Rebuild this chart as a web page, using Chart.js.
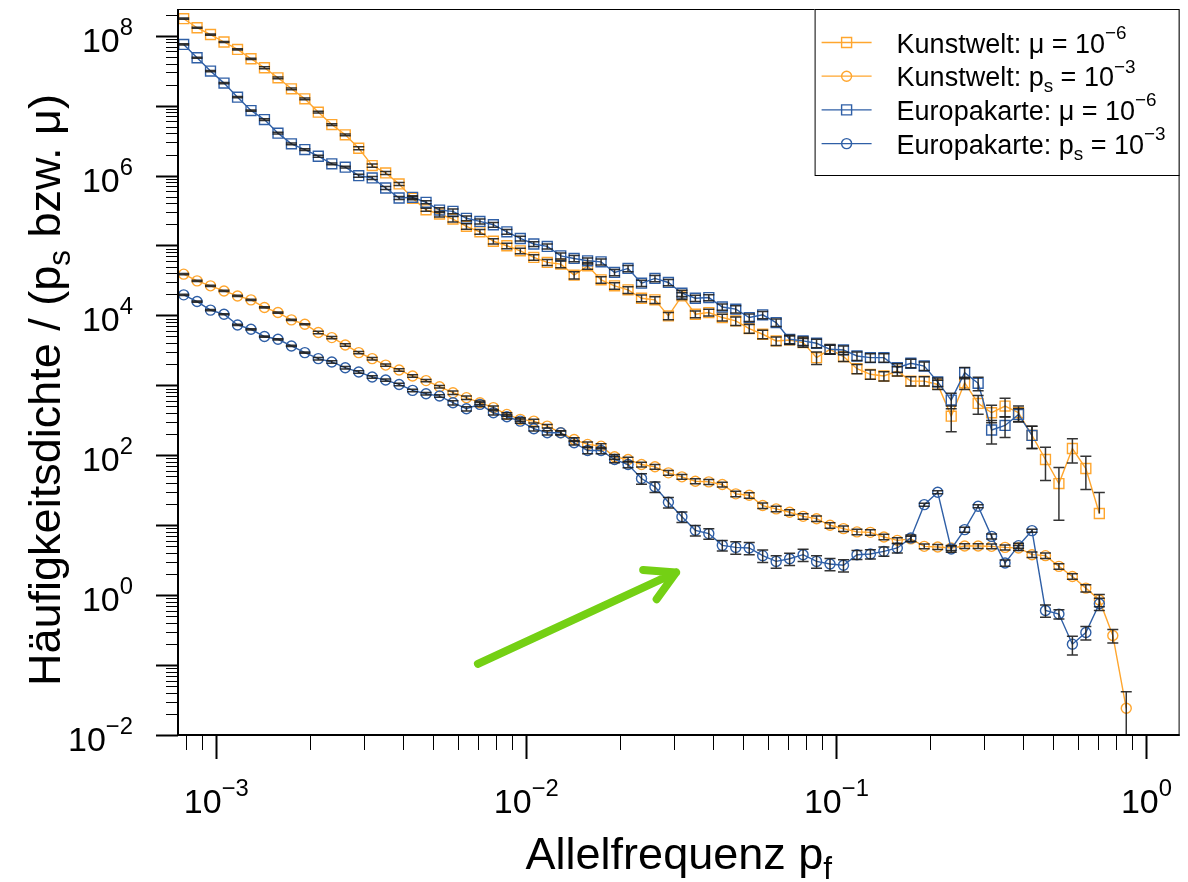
<!DOCTYPE html>
<html>
<head>
<meta charset="utf-8">
<script src="https://cdn.jsdelivr.net/npm/chart.js@4.4.0/dist/chart.umd.min.js"></script>
<style>
  html, body { margin: 0; padding: 0; background: #fff; }
</style>
</head>
<body>
<canvas id="chart" width="1188" height="882"></canvas>
<script>
// allele frequency bins (x)
const allelFreq = [
  0.000785, 0.000867, 0.000958, 0.001059, 0.001171, 0.001294, 0.001430, 0.001581, 0.001747, 0.001930,
  0.002133, 0.002358, 0.002606, 0.002880, 0.003183, 0.003518, 0.003887, 0.004296, 0.004748, 0.005248,
  0.005799, 0.006409, 0.007083, 0.007828, 0.008652, 0.009562, 0.01057, 0.01168, 0.01291, 0.01426,
  0.01576, 0.01742, 0.01925, 0.02128, 0.02352, 0.02599, 0.02872, 0.03175, 0.03508, 0.03877,
  0.04285, 0.04736, 0.05234, 0.05784, 0.06393, 0.07065, 0.07808, 0.08629, 0.09537, 0.1054,
  0.1165, 0.1287, 0.1423, 0.1572, 0.1738, 0.1920, 0.2122, 0.2346, 0.2592, 0.2865,
  0.3166, 0.3499, 0.3867, 0.4274, 0.4724, 0.5220, 0.5769, 0.6376, 0.7047, 0.7788,
  0.8607
];

// Kunstwelt, mu = 1e-6
const kunstMu = [
  1.75e8, 1.30e8, 1.04e8, 8.13e7, 6.37e7, 4.68e7, 3.48e7, 2.50e7, 1.74e7, 1.25e7,
  8.07e6, 5.36e6, 3.82e6, 2.46e6, 1.39e6, 1.09e6, 7.59e5, 4.73e5, 3.24e5, 2.82e5,
  2.39e5, 1.88e5, 1.57e5, 1.15e5, 9.91e4, 8.40e4, 6.76e4, 5.73e4, 5.42e4, 3.77e4,
  5.12e4, 3.23e4, 2.65e4, 2.32e4, 1.76e4, 1.67e4, 9.84e3, 1.90e4, 1.04e4, 1.10e4,
  9.33e3, 8.34e3, 6.49e3, 5.38e3, 4.32e3, 4.46e3, 4.09e3, 2.49e3, 3.28e3, 2.58e3,
  1.73e3, 1.44e3, 1.36e3, 1.60e3, 1.15e3, 1.15e3, 1.03e3, 363, 1.09e3, 552,
  406, 505, 406, 192, 87.1, 39.4, 125, 64.7, 14.7
];
const kunstMuErr = [
  0.02, 0.02, 0.02, 0.02, 0.02, 0.02, 0.03, 0.03, 0.03, 0.03,
  0.03, 0.03, 0.03, 0.05, 0.05, 0.05, 0.05, 0.05, 0.05, 0.09,
  0.09, 0.09, 0.08, 0.09, 0.09, 0.09, 0.09, 0.10, 0.11, 0.12,
  0.11, 0.11, 0.11, 0.11, 0.11, 0.11, 0.12, 0.11, 0.11, 0.11,
  0.11, 0.14, 0.14, 0.14, 0.14, 0.14, 0.14, 0.20, 0.15, 0.15,
  0.15, 0.15, 0.15, 0.15, 0.15, 0.15, 0.15, 0.40, 0.20, 0.30,
  0.28, 0.30, 0.25, 0.35, 0.50, 0.70, 0.38, 0.50, 1.0
];

// Kunstwelt, ps = 1e-3
const kunstPs = [
  3.89e4, 3.12e4, 2.65e4, 2.24e4, 1.90e4, 1.67e4, 1.30e4, 1.10e4, 8.63e3, 7.48e3,
  5.69e3, 4.82e3, 3.78e3, 2.94e3, 2.41e3, 1.95e3, 1.66e3, 1.36e3, 1.17e3, 957,
  785, 667, 565, 480, 384, 326, 308, 261, 210, 168,
  143, 135, 95.1, 87.1, 73.8, 68.4, 56.1, 49.2, 42.6, 41.7,
  38.2, 28.1, 26.8, 19.1, 17.1, 15.3, 13.4, 12.4, 9.98, 8.94,
  8.02, 7.91, 6.79, 6.08, 6.37, 4.99, 4.89, 4.73, 5.05, 5.05,
  4.99, 4.82, 4.73, 3.79, 3.67, 2.58, 1.85, 1.26, 0.853, 0.265,
  0.0241
];
const kunstPsErr = [
  0.02, 0.02, 0.02, 0.02, 0.02, 0.02, 0.02, 0.02, 0.02, 0.02,
  0.04, 0.04, 0.04, 0.04, 0.04, 0.04, 0.04, 0.04, 0.04, 0.04,
  0.06, 0.06, 0.06, 0.06, 0.06, 0.06, 0.06, 0.06, 0.06, 0.06,
  0.08, 0.08, 0.08, 0.08, 0.08, 0.08, 0.08, 0.08, 0.08, 0.08,
  0.08, 0.09, 0.09, 0.09, 0.09, 0.09, 0.09, 0.09, 0.09, 0.09,
  0.09, 0.09, 0.09, 0.09, 0.09, 0.08, 0.08, 0.08, 0.08, 0.08,
  0.08, 0.08, 0.08, 0.09, 0.09, 0.09, 0.09, 0.12, 0.20, 0.22,
  0.72
];

// Europakarte, mu = 1e-6
const europaMu = [
  7.50e7, 4.84e7, 3.12e7, 2.10e7, 1.32e7, 8.51e6, 6.32e6, 4.04e6, 2.84e6, 2.35e6,
  1.89e6, 1.47e6, 1.32e6, 9.98e5, 9.25e5, 6.64e5, 4.78e5, 4.89e5, 4.15e5, 3.21e5,
  3.08e5, 2.45e5, 2.21e5, 1.98e5, 1.57e5, 1.26e5, 1.05e5, 9.70e4, 7.11e4, 6.53e4,
  6.04e4, 5.84e4, 4.12e4, 4.70e4, 2.89e4, 3.38e4, 2.96e4, 2.08e4, 1.76e4, 1.80e4,
  1.32e4, 1.23e4, 9.33e3, 1.02e4, 7.91e3, 4.56e3, 4.32e3, 4.00e3, 3.28e3, 3.21e3,
  2.63e3, 2.49e3, 2.49e3, 1.79e3, 2.07e3, 1.89e3, 1.12e3, 615, 1.52e3, 1.07e3,
  230, 267, 384, 192
];
const europaMuErr = [
  0.02, 0.02, 0.02, 0.02, 0.02, 0.02, 0.03, 0.03, 0.03, 0.03,
  0.03, 0.03, 0.03, 0.05, 0.05, 0.05, 0.05, 0.05, 0.05, 0.08,
  0.08, 0.08, 0.08, 0.08, 0.08, 0.08, 0.08, 0.08, 0.10, 0.10,
  0.10, 0.10, 0.10, 0.10, 0.10, 0.10, 0.10, 0.10, 0.10, 0.10,
  0.10, 0.12, 0.12, 0.12, 0.12, 0.14, 0.14, 0.14, 0.14, 0.14,
  0.14, 0.14, 0.14, 0.14, 0.14, 0.14, 0.14, 0.25, 0.18, 0.22,
  0.37, 0.33, 0.22, 0.35
];

// Europakarte, ps = 1e-3
const europaPs = [
  1.97e4, 1.58e4, 1.19e4, 1.04e4, 7.31e3, 6.34e3, 4.99e3, 4.56e3, 3.66e3, 2.94e3,
  2.41e3, 2.16e3, 1.79e3, 1.55e3, 1.32e3, 1.19e3, 1.03e3, 847, 760, 703,
  565, 463, 535, 406, 356, 308, 240, 210, 210, 151,
  117, 117, 87.1, 73.8, 46.5, 35.4, 21.3, 13.2, 8.45, 7.59,
  5.15, 4.82, 4.73, 3.67, 3.04, 3.32, 3.79, 3.04, 2.79, 2.67,
  3.79, 3.88, 4.23, 4.73, 6.58, 19.7, 29.6, 4.57, 8.65, 18.7,
  6.93, 2.88, 5.10, 8.37, 0.604, 0.536, 0.199, 0.292, 0.753
];
const europaPsErr = [
  0.02, 0.02, 0.02, 0.02, 0.02, 0.02, 0.02, 0.02, 0.02, 0.02,
  0.04, 0.04, 0.04, 0.04, 0.04, 0.04, 0.04, 0.04, 0.04, 0.04,
  0.07, 0.07, 0.07, 0.07, 0.07, 0.07, 0.07, 0.07, 0.07, 0.07,
  0.10, 0.10, 0.10, 0.10, 0.17, 0.17, 0.17, 0.17, 0.17, 0.17,
  0.17, 0.20, 0.20, 0.20, 0.20, 0.20, 0.20, 0.20, 0.20, 0.20,
  0.15, 0.15, 0.15, 0.15, 0.10, 0.05, 0.05, 0.10, 0.08, 0.05,
  0.08, 0.10, 0.08, 0.05, 0.20, 0.15, 0.30, 0.22, 0.20
];

// axis labels (powers of ten)
const xLabelExps = [-3, -2, -1, 0];
const yLabelExps = [-2, 0, 2, 4, 6, 8];

// legend text parts: [text, 'sup' | 'sub' | '']
const seriesLabels = [
  [['Kunstwelt: μ = 10'], ['−6', 'sup']],
  [['Kunstwelt: p'], ['s', 'sub'], [' = 10'], ['−3', 'sup']],
  [['Europakarte: μ = 10'], ['−6', 'sup']],
  [['Europakarte: p'], ['s', 'sub'], [' = 10'], ['−3', 'sup']]
];
const xTitle = [['Allelfrequenz p'], ['f', 'sub']];
const yTitle = [['Häufigkeitsdichte / (p'], ['s', 'sub'], [' bzw. μ)']];

// green arrow annotation, in data coordinates
const arrowFrom = {x: 0.00698, y: 0.104};
const arrowTo = {x: 0.0304, y: 2.11};

const ORANGE = '#ffa62e';
const BLUE = '#2f5fa6';
const FONT = '"Liberation Sans", Arial, Helvetica, sans-serif';

function toPoints(vals) {
  return vals.map((v, i) => ({x: allelFreq[i], y: v}));
}

function layoutRich(ctx, parts, size) {
  let w = 0;
  const out = parts.map(([t, k]) => {
    const s = k ? size * 0.7 : size;
    ctx.font = s + 'px ' + FONT;
    const o = {t, s, x: w, dy: k === 'sup' ? -size * 0.5 : (k === 'sub' ? size * 0.22 : 0)};
    w += ctx.measureText(t).width;
    return o;
  });
  return {out, w};
}

function drawRich(ctx, parts, x, y, size, align) {
  const {out, w} = layoutRich(ctx, parts, size);
  const x0 = align === 'right' ? x - w : (align === 'center' ? x - w / 2 : x);
  ctx.textAlign = 'left';
  ctx.textBaseline = 'alphabetic';
  out.forEach(o => {
    ctx.font = o.s + 'px ' + FONT;
    ctx.fillText(o.t, x0 + o.x, y + o.dy);
  });
}

function powLabel(e) {
  return [['10'], [(e < 0 ? '−' + Math.abs(e) : String(e)), 'sup']];
}

function marker(ctx, shape, x, y, color) {
  ctx.strokeStyle = color;
  ctx.lineWidth = 1.4;
  ctx.beginPath();
  if (shape === 'rect') ctx.rect(x - 5, y - 5, 10, 10);
  else ctx.arc(x, y, 5, 0, Math.PI * 2);
  ctx.stroke();
}

const overlay = {
  id: 'overlay',
  afterDatasetsDraw(chart) {
    const {ctx, chartArea: a, scales: {x, y}} = chart;
    ctx.save();
    ctx.beginPath();
    ctx.rect(a.left, a.top, a.right - a.left, a.bottom - a.top);
    ctx.clip();

    // error bars
    ctx.strokeStyle = 'rgba(30,30,30,0.9)';
    ctx.lineWidth = 1.5;
    chart.data.datasets.forEach(ds => {
      ds.data.forEach((p, i) => {
        const r = ds.relErr[i];
        const px = x.getPixelForValue(p.x);
        const top = y.getPixelForValue(p.y * (1 + r));
        const mid = y.getPixelForValue(p.y);
        const lo = p.y * (1 - r);
        const bot = lo > 0 ? y.getPixelForValue(lo) : null;
        ctx.beginPath();
        ctx.moveTo(px, top);
        ctx.lineTo(px, bot === null ? mid : bot);
        ctx.moveTo(px - 5.5, top);
        ctx.lineTo(px + 5.5, top);
        if (bot !== null) {
          ctx.moveTo(px - 5.5, bot);
          ctx.lineTo(px + 5.5, bot);
        }
        ctx.stroke();
      });
    });

    // arrow
    const x1 = x.getPixelForValue(arrowFrom.x), y1 = y.getPixelForValue(arrowFrom.y);
    const x2 = x.getPixelForValue(arrowTo.x), y2 = y.getPixelForValue(arrowTo.y);
    const ang = Math.atan2(y2 - y1, x2 - x1);
    ctx.strokeStyle = '#74d014';
    ctx.lineWidth = 8;
    ctx.lineCap = 'round';
    ctx.lineJoin = 'round';
    ctx.beginPath();
    ctx.moveTo(x1, y1);
    ctx.lineTo(x2, y2);
    [0.51, -0.51].forEach(d => {
      ctx.moveTo(x2, y2);
      ctx.lineTo(x2 - 33 * Math.cos(ang + d), y2 - 33 * Math.sin(ang + d));
    });
    ctx.stroke();
    ctx.restore();
  },
  afterDraw(chart) {
    const {ctx, chartArea: a, scales: {x, y}} = chart;
    ctx.save();
    ctx.strokeStyle = '#000';
    ctx.fillStyle = '#000';

    // frame
    ctx.lineWidth = 1;
    ctx.strokeRect(a.left + 0.5, a.top + 0.5, a.right - a.left - 1, a.bottom - a.top);
    ctx.lineWidth = 2;
    ctx.beginPath();
    ctx.moveTo(a.left, a.top);
    ctx.lineTo(a.left, a.bottom);
    ctx.lineTo(a.right, a.bottom);
    ctx.stroke();

    // y ticks
    for (let d = -2; d <= 8; d++) {
      for (let k = 1; k <= 9; k++) {
        const v = k * Math.pow(10, d);
        if (v > y.max) continue;
        const py = Math.round(y.getPixelForValue(v)) + 0.5;
        ctx.lineWidth = k === 1 ? 2 : 1;
        ctx.beginPath();
        ctx.moveTo(a.left - (k === 1 ? 22 : 12), py);
        ctx.lineTo(a.left, py);
        ctx.stroke();
      }
    }
    // x ticks
    for (let d = -4; d <= 0; d++) {
      for (let k = 1; k <= 9; k++) {
        const v = k * Math.pow(10, d);
        if (v < x.min || v > x.max) continue;
        const px = Math.round(x.getPixelForValue(v)) + 0.5;
        ctx.lineWidth = k === 1 ? 2 : 1;
        ctx.beginPath();
        ctx.moveTo(px, a.bottom);
        ctx.lineTo(px, a.bottom + (k === 1 ? 24 : 15));
        ctx.stroke();
      }
    }

    // tick labels
    yLabelExps.forEach(e => {
      const py = y.getPixelForValue(Math.pow(10, e));
      drawRich(ctx, powLabel(e), a.left - 45, py + 16, 34, 'right');
    });
    xLabelExps.forEach(e => {
      const px = x.getPixelForValue(Math.pow(10, e));
      drawRich(ctx, powLabel(e), px, a.bottom + 78, 34, 'center');
    });

    // axis titles
    drawRich(ctx, xTitle, (a.left + a.right) / 2, a.bottom + 134, 45, 'center');
    ctx.save();
    ctx.translate(60, 390);
    ctx.rotate(-Math.PI / 2);
    drawRich(ctx, yTitle, 0, 0, 45, 'center');
    ctx.restore();

    // legend
    const lw = 365, lh = 166;
    const lx = a.right - lw, ly = a.top;
    ctx.fillStyle = '#fff';
    ctx.fillRect(lx, ly, lw, lh);
    ctx.lineWidth = 1;
    ctx.strokeStyle = '#000';
    ctx.strokeRect(lx + 0.5, ly + 0.5, lw - 1, lh);
    const legendStyle = [[ORANGE, 'rect'], [ORANGE, 'circle'], [BLUE, 'rect'], [BLUE, 'circle']];
    seriesLabels.forEach((parts, i) => {
      const ry = ly + 33.5 + i * 33.7;
      const [color, shape] = legendStyle[i];
      ctx.strokeStyle = color;
      ctx.lineWidth = 1.3;
      ctx.beginPath();
      ctx.moveTo(lx + 7, ry);
      ctx.lineTo(lx + 57, ry);
      ctx.stroke();
      marker(ctx, shape, lx + 32, ry, color);
      ctx.fillStyle = '#000';
      drawRich(ctx, parts, lx + 82, ry + 10, 27, 'left');
    });
    ctx.restore();
  }
};

function series(vals, err, color, shape, order) {
  return {
    data: toPoints(vals),
    relErr: err,
    borderColor: color,
    borderWidth: 1.4,
    pointStyle: shape,
    pointRadius: shape === 'rect' ? 7 : 5,
    pointBorderColor: color,
    pointBackgroundColor: 'rgba(0,0,0,0)',
    pointBorderWidth: 1.4,
    tension: 0,
    fill: false,
    order: order
  };
}

new Chart(document.getElementById('chart'), {
  type: 'line',
  data: {
    datasets: [
      series(kunstMu, kunstMuErr, ORANGE, 'rect', 2),
      series(kunstPs, kunstPsErr, ORANGE, 'circle', 2),
      series(europaMu, europaMuErr, BLUE, 'rect', 1),
      series(europaPs, europaPsErr, BLUE, 'circle', 1)
    ]
  },
  options: {
    responsive: false,
    animation: false,
    devicePixelRatio: 1,
    layout: {padding: {left: 178, top: 9, right: 7, bottom: 147}},
    plugins: {legend: {display: false}, tooltip: {enabled: false}, title: {display: false}},
    scales: {
      x: {type: 'logarithmic', min: 7.525e-4, max: 1.279, display: false},
      y: {type: 'logarithmic', min: 0.01, max: 2.41e8, display: false}
    }
  },
  plugins: [overlay]
});
</script>
</body>
</html>
